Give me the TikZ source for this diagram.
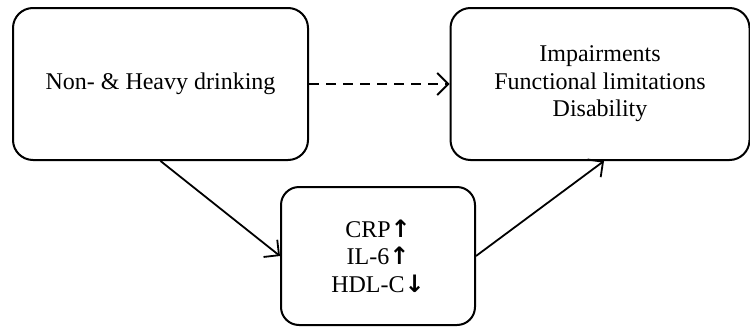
\documentclass[tikz,border=0pt]{standalone}
\usepackage{fontspec}
\setmainfont{Liberation Serif}
\newfontfamily\arrowfont{DejaVu Sans}
\newcommand{\myarr}[1]{{\arrowfont\bfseries\fontsize{24}{24}\selectfont #1}}
\usetikzlibrary{arrows.meta}
\begin{document}
\begin{tikzpicture}[x=1pt,y=-1pt,
  box/.style={draw, line width=2pt, rounded corners=20pt, align=center,
    font=\fontsize{24}{27.5}\selectfont, inner sep=0pt},
  conn/.style={line width=1.8pt, -{Straight Barb[length=11pt,width=22pt,line width=1.8pt]}}]
\useasboundingbox (0,0) rectangle (750,327);
\node[box, minimum width=295pt, minimum height=152pt] (A) at (160.5,84) {Non- \& Heavy drinking};
\node[box, minimum width=299pt, minimum height=152pt] (B) at (600,84) {Impairments\\Functional limitations\\Disability};
\node[box, rounded corners=18pt, minimum width=194pt, minimum height=138pt] (C) at (378,256) {CRP\myarr{↑}\\IL-6\myarr{↑}\\HDL-C\myarr{↓}};
\draw[conn, dash pattern=on 10pt off 7pt] (A.east) -- (B.west);
\draw[conn] (A.south) -- (C.west);
\draw[conn] (C.east) -- ([xshift=4pt]B.south);
\end{tikzpicture}
\end{document}
